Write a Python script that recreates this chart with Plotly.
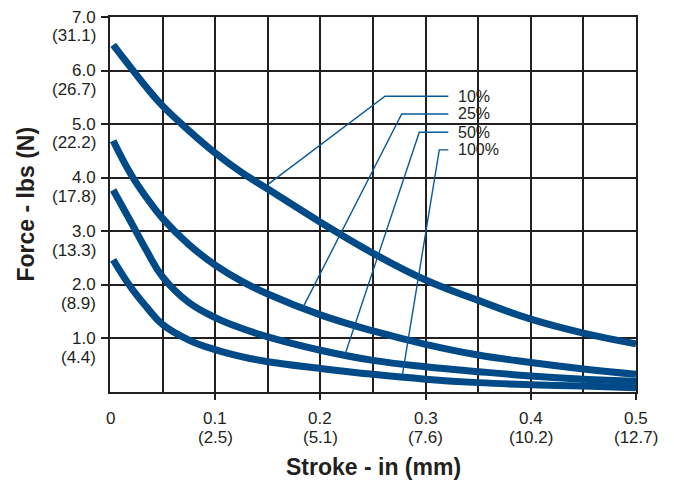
import plotly.graph_objects as go

STROKE_IN = [0.003, 0.02, 0.035, 0.05, 0.075, 0.1, 0.125, 0.15,
             0.2, 0.25, 0.3, 0.35, 0.4, 0.45, 0.5]

# Force (lbs) for each duty setting
FORCE_10 = [6.48, 6.05, 5.68, 5.34, 4.88, 4.46, 4.10, 3.79,
            3.17, 2.59, 2.09, 1.71, 1.36, 1.10, 0.90]
FORCE_25 = [4.69, 4.06, 3.62, 3.24, 2.75, 2.37, 2.07, 1.83,
            1.44, 1.14, 0.89, 0.69, 0.55, 0.43, 0.33]
FORCE_50 = [3.77, 3.17, 2.63, 2.15, 1.67, 1.39, 1.19, 1.03,
            0.78, 0.59, 0.47, 0.38, 0.30, 0.24, 0.20]
FORCE_100 = [2.47, 1.95, 1.58, 1.26, 0.97, 0.79, 0.66, 0.565,
             0.44, 0.33, 0.24, 0.175, 0.135, 0.11, 0.08]

SERIES_LABELS = ["10%", "25%", "50%", "100%"]

# Callout leaders: label row, elbow, and where each one touches its curve
LABEL_FORCE = [5.52, 5.19, 4.85, 4.52]
LABEL_STROKE = 0.3286
LEADER_RIGHT = 0.3216
LEADER_ELBOW = [0.2614, 0.2773, 0.294, 0.313]
LEADER_HIT_STROKE = [0.1505, 0.1837, 0.2234, 0.2779]
LEADER_HIT_FORCE = [3.88, 1.59, 0.70, 0.315]

REFERENCE_FORCE = 4.0

# Tick labels (imperial with metric underneath)
Y_TICKS = [1, 2, 3, 4, 5, 6, 7]
Y_TICKS_N = ["(4.4)", "(8.9)", "(13.3)", "(17.8)", "(22.2)", "(26.7)", "(31.1)"]
X_TICKS = [0, 0.1, 0.2, 0.3, 0.4, 0.5]
X_TICKS_MM = ["", "(2.5)", "(5.1)", "(7.6)", "(10.2)", "(12.7)"]
X_GRID = [0.05, 0.15, 0.25, 0.35, 0.45]

CURVE_BLUE = "#004b87"
THIN_BLUE = "#0b5896"
INK = "#231f20"
FONT = "Liberation Sans, Arial, sans-serif"
TICK_SIZE = 17

fig = go.Figure()

for force in [FORCE_10, FORCE_25, FORCE_50, FORCE_100]:
    fig.add_trace(
        go.Scatter(
            x=STROKE_IN,
            y=force,
            mode="lines",
            line=dict(color=CURVE_BLUE, width=7, shape="spline", smoothing=1.2),
            hoverinfo="skip",
        )
    )

for i, label in enumerate(SERIES_LABELS):
    fig.add_trace(
        go.Scatter(
            x=[LEADER_RIGHT, LEADER_ELBOW[i], LEADER_HIT_STROKE[i]],
            y=[LABEL_FORCE[i], LABEL_FORCE[i], LEADER_HIT_FORCE[i]],
            mode="lines",
            line=dict(color=THIN_BLUE, width=1.4),
            hoverinfo="skip",
        )
    )

annotations = []
for i, label in enumerate(SERIES_LABELS):
    annotations.append(
        dict(
            x=LABEL_STROKE, y=LABEL_FORCE[i], xref="x", yref="y",
            text=label, showarrow=False, xanchor="left", yanchor="middle",
            font=dict(size=16, color=INK, family=FONT),
        )
    )

for val, metric in zip(Y_TICKS, Y_TICKS_N):
    annotations.append(
        dict(
            x=0, y=val, xref="paper", yref="y", text=f"{val:.1f}",
            showarrow=False, xanchor="right", yanchor="middle", xshift=-12,
            font=dict(size=TICK_SIZE, color=INK, family=FONT),
        )
    )
    annotations.append(
        dict(
            x=0, y=val, xref="paper", yref="y", text=metric,
            showarrow=False, xanchor="right", yanchor="middle", xshift=-12,
            yshift=-18.8, font=dict(size=TICK_SIZE, color=INK, family=FONT),
        )
    )

for val, metric in zip(X_TICKS, X_TICKS_MM):
    annotations.append(
        dict(
            x=val, y=0, xref="x", yref="paper",
            text="0" if val == 0 else f"{val:.1f}",
            showarrow=False, xanchor="center", yanchor="middle", yshift=-26.5,
            font=dict(size=TICK_SIZE, color=INK, family=FONT),
        )
    )
    if metric:
        annotations.append(
            dict(
                x=val, y=0, xref="x", yref="paper", text=metric,
                showarrow=False, xanchor="center", yanchor="middle", yshift=-45.5,
                font=dict(size=TICK_SIZE, color=INK, family=FONT),
            )
        )

annotations.append(
    dict(
        x=0.5, y=0, xref="paper", yref="paper", text="<b>Stroke - in (mm)</b>",
        showarrow=False, xanchor="center", yanchor="middle", yshift=-75,
        font=dict(size=23, color=INK, family=FONT),
    )
)
annotations.append(
    dict(
        x=0, y=0.5, xref="paper", yref="paper", text="<b>Force - lbs (N)</b>",
        showarrow=False, xanchor="center", yanchor="middle", xshift=-85,
        textangle=-90, font=dict(size=23, color=INK, family=FONT),
    )
)

fig.add_shape(
    type="line", xref="paper", yref="y", x0=0, x1=1,
    y0=REFERENCE_FORCE, y1=REFERENCE_FORCE,
    line=dict(color=THIN_BLUE, width=1.5), layer="between",
)

# the page body keeps its 8px margin, so the figure is 8px smaller each way
fig.update_layout(
    width=666,
    height=473,
    margin=dict(l=102, r=38, t=7, b=89),
    paper_bgcolor="white",
    plot_bgcolor="white",
    showlegend=False,
    hovermode=False,
    annotations=annotations,
    xaxis=dict(
        range=[0, 0.5],
        tickmode="array",
        tickvals=X_TICKS[1:],
        showticklabels=False,
        ticks="outside",
        ticklen=6,
        tickwidth=1.5,
        tickcolor=INK,
        showgrid=True,
        gridcolor=INK,
        gridwidth=1.5,
        minor=dict(tickmode="array", tickvals=X_GRID, showgrid=True,
                   gridcolor=INK, gridwidth=1.5, ticks=""),
        showline=True,
        mirror=True,
        linecolor=INK,
        linewidth=1.5,
        zeroline=False,
        fixedrange=True,
    ),
    yaxis=dict(
        range=[0, 7],
        tickmode="array",
        tickvals=Y_TICKS,
        showticklabels=False,
        ticks="outside",
        ticklen=7,
        tickwidth=1.5,
        tickcolor=INK,
        showgrid=True,
        gridcolor=INK,
        gridwidth=1.5,
        showline=True,
        mirror=True,
        linecolor=INK,
        linewidth=1.5,
        zeroline=False,
        fixedrange=True,
    ),
)

fig.write_html("out.html")
